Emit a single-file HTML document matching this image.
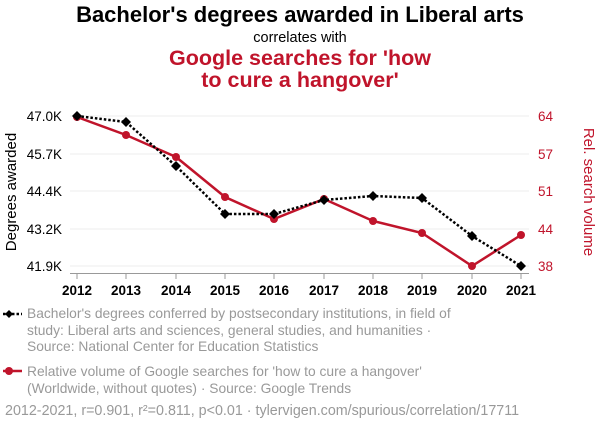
<!DOCTYPE html>
<html><head><meta charset="utf-8"><style>
html,body{margin:0;padding:0;background:#fff;width:600px;height:430px;overflow:hidden}
svg{display:block;font-family:"Liberation Sans",Arial,sans-serif}
</style></head><body>
<svg width="600" height="430" viewBox="0 0 600 430">
<text x="300" y="22" text-anchor="middle" font-size="22" font-weight="bold" fill="#000">Bachelor's degrees awarded in Liberal arts</text>
<text x="300" y="42" text-anchor="middle" font-size="14.5" fill="#000">correlates with</text>
<text x="300" y="65" text-anchor="middle" font-size="21.5" font-weight="bold" fill="#C0142B">Google searches for 'how</text>
<text x="300" y="87" text-anchor="middle" font-size="21.5" font-weight="bold" fill="#C0142B">to cure a hangover'</text>
<g stroke="#eee" stroke-width="1">
<line x1="70" x2="529" y1="116" y2="116"/><line x1="70" x2="529" y1="154" y2="154"/>
<line x1="70" x2="529" y1="191" y2="191"/><line x1="70" x2="529" y1="229" y2="229"/>
<line x1="70" x2="529" y1="266" y2="266"/></g>
<line x1="70" x2="529" y1="273.5" y2="273.5" stroke="#999"/>
<g stroke="#999"><line x1="77" x2="77" y1="274" y2="279"/><line x1="126" x2="126" y1="274" y2="279"/><line x1="176" x2="176" y1="274" y2="279"/><line x1="225" x2="225" y1="274" y2="279"/><line x1="274" x2="274" y1="274" y2="279"/><line x1="324" x2="324" y1="274" y2="279"/><line x1="373" x2="373" y1="274" y2="279"/><line x1="422" x2="422" y1="274" y2="279"/><line x1="472" x2="472" y1="274" y2="279"/><line x1="521" x2="521" y1="274" y2="279"/></g>
<g font-size="13.5" font-weight="bold" text-anchor="middle" fill="#000">
<text x="77" y="295">2012</text><text x="126" y="295">2013</text><text x="176" y="295">2014</text><text x="225" y="295">2015</text><text x="274" y="295">2016</text><text x="324" y="295">2017</text><text x="373" y="295">2018</text><text x="422" y="295">2019</text><text x="472" y="295">2020</text><text x="521" y="295">2021</text></g>
<g font-size="13.5" text-anchor="end" fill="#000">
<text x="62" y="121">47.0K</text><text x="62" y="159">45.7K</text><text x="62" y="196">44.4K</text><text x="62" y="234">43.2K</text><text x="62" y="271">41.9K</text></g>
<g font-size="13.5" text-anchor="start" fill="#C0142B">
<text x="538" y="121">64</text><text x="538" y="159">57</text><text x="538" y="196">51</text><text x="538" y="234">44</text><text x="538" y="271">38</text></g>
<text transform="translate(16,192) rotate(-90)" text-anchor="middle" font-size="15" fill="#000">Degrees awarded</text>
<text transform="translate(584,192) rotate(90)" text-anchor="middle" font-size="15" fill="#C0142B">Rel. search volume</text>
<polyline fill="none" stroke="#C0142B" stroke-width="2.5" points="77,117 126,135 176,157 225,197 274,219 324,199 373,221 422,233 472,266 521,235"/>
<g fill="#C0142B"><circle cx="77" cy="117" r="4"/><circle cx="126" cy="135" r="4"/><circle cx="176" cy="157" r="4"/><circle cx="225" cy="197" r="4"/><circle cx="274" cy="219" r="4"/><circle cx="324" cy="199" r="4"/><circle cx="373" cy="221" r="4"/><circle cx="422" cy="233" r="4"/><circle cx="472" cy="266" r="4"/><circle cx="521" cy="235" r="4"/></g>
<polyline fill="none" stroke="#000" stroke-width="2.5" stroke-dasharray="2.5,2" points="77,116 126,122 176,166 225,214 274,214 324,200 373,196 422,198 472,236 521,266"/>
<g fill="#000">
<path d="M77 111l5 5-5 5-5-5z"/><path d="M126 117l5 5-5 5-5-5z"/><path d="M176 161l5 5-5 5-5-5z"/><path d="M225 209l5 5-5 5-5-5z"/><path d="M274 209l5 5-5 5-5-5z"/><path d="M324 195l5 5-5 5-5-5z"/><path d="M373 191l5 5-5 5-5-5z"/><path d="M422 193l5 5-5 5-5-5z"/><path d="M472 231l5 5-5 5-5-5z"/><path d="M521 261l5 5-5 5-5-5z"/></g>
<line x1="3" x2="22" y1="314" y2="314" stroke="#000" stroke-width="2.5" stroke-dasharray="2.5,2"/>
<path d="M9 310l4 4-4 4-4-4z" fill="#000"/>
<g font-size="13.8" fill="#999">
<text x="27" y="318">Bachelor's degrees conferred by postsecondary institutions, in field of</text>
<text x="27" y="335">study: Liberal arts and sciences, general studies, and humanities ·</text>
<text x="27" y="351">Source: National Center for Education Statistics</text>
<text x="27" y="376">Relative volume of Google searches for 'how to cure a hangover'</text>
<text x="27" y="393">(Worldwide, without quotes) · Source: Google Trends</text>
<text x="5" y="415" font-size="14.3">2012-2021, r=0.901, r²=0.811, p&lt;0.01 · tylervigen.com/spurious/correlation/17711</text></g>
<line x1="3" x2="22" y1="371" y2="371" stroke="#C0142B" stroke-width="2.5"/>
<circle cx="9" cy="371" r="4" fill="#C0142B"/>
</svg>
</body></html>
